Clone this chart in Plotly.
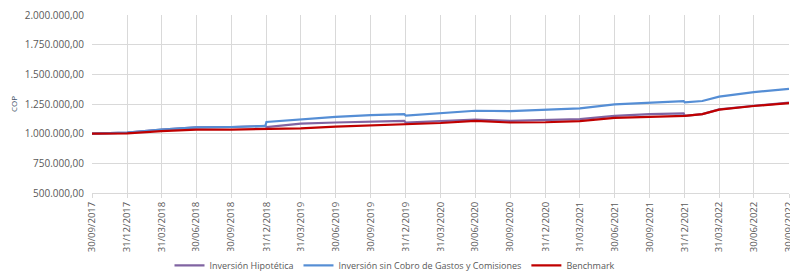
import plotly.graph_objects as go

dates = ["2017-09-30", "2017-12-31", "2018-03-31", "2018-06-30", "2018-09-30", "2018-12-28",
         "2018-12-31", "2019-03-31", "2019-06-30", "2019-09-30", "2019-12-27", "2019-12-31",
         "2020-03-31", "2020-06-30", "2020-09-30", "2020-12-31", "2021-03-31", "2021-06-30",
         "2021-09-30", "2021-12-28", "2021-12-31", "2022-02-15", "2022-03-31", "2022-06-30",
         "2022-09-30"]

hipotetica = [1000000, 1008000, 1034000, 1053000, 1056000, 1065000,
              1056000, 1085000, 1094000, 1102000, 1107000, 1094000,
              1105000, 1119000, 1107000, 1113000, 1122000, 1150000,
              1165000, 1171000, 1150000, 1165000, 1205000, 1235000,
              1261000]

sin_cobro = [1000000, 1008000, 1034000, 1053000, 1056000, 1065000,
             1099000, 1119000, 1142000, 1156000, 1165000, 1153000,
             1176000, 1193000, 1190000, 1201000, 1213000, 1247000,
             1261000, 1275000, 1264000, 1275000, 1312000, 1350000,
             1378000]

benchmark = [1000000, 1003000, 1022000, 1034000, 1034000, 1039000,
             1040000, 1045000, 1060000, 1068000, 1079000, 1080000,
             1090000, 1107000, 1094000, 1096000, 1105000, 1133000,
             1142000, 1150000, 1150000, 1165000, 1203000, 1233000,
             1258000]

tick_dates = ["2017-09-30", "2017-12-31", "2018-03-31", "2018-06-30", "2018-09-30",
              "2018-12-31", "2019-03-31", "2019-06-30", "2019-09-30", "2019-12-31",
              "2020-03-31", "2020-06-30", "2020-09-30", "2020-12-31", "2021-03-31",
              "2021-06-30", "2021-09-30", "2021-12-31", "2022-03-31", "2022-06-30",
              "2022-09-30"]
tick_labels = ["30/09/2017", "31/12/2017", "31/03/2018", "30/06/2018", "30/09/2018",
               "31/12/2018", "31/03/2019", "30/06/2019", "30/09/2019", "31/12/2019",
               "31/03/2020", "30/06/2020", "30/09/2020", "31/12/2020", "31/03/2021",
               "30/06/2021", "30/09/2021", "31/12/2021", "31/03/2022", "30/06/2022",
               "30/09/2022"]

font = "Open Sans"
txt = "#595959"

fig = go.Figure()
fig.add_trace(go.Scatter(x=dates, y=hipotetica, mode="lines", name="Inversión Hipotética",
                         line=dict(color="#8064A2", width=2.2)))
fig.add_trace(go.Scatter(x=dates, y=sin_cobro, mode="lines",
                         name="Inversión sin Cobro de Gastos y Comisiones",
                         line=dict(color="#558ED5", width=2.2)))
fig.add_trace(go.Scatter(x=dates, y=benchmark, mode="lines", name="Benchmark",
                         line=dict(color="#C00000", width=2.2)))

fig.update_layout(
    width=790, height=275,
    margin=dict(l=92, r=1, t=15, b=82),
    paper_bgcolor="white", plot_bgcolor="white",
    separators=",.",
    font=dict(family=font, size=9, color=txt),
    showlegend=True,
    legend=dict(orientation="h", xref="container", x=0.5, xanchor="center",
                yref="container", y=0.035, yanchor="middle",
                font=dict(family=font, size=9, color=txt),
                itemwidth=30, tracegroupgap=0),
    xaxis=dict(type="date", range=["2017-09-30", "2022-09-30"], automargin=False,
               tickmode="array", tickvals=tick_dates, ticktext=tick_labels,
               tickangle=-90, showgrid=True, gridcolor="#D9D9D9", gridwidth=1,
               showline=True, linecolor="#D9D9D9", ticks="outside", ticklen=4,
               tickcolor="#D9D9D9", tickfont=dict(family=font, size=9.5, color=txt),
               ticklabeloverflow="allow", zeroline=False),
    yaxis=dict(range=[500000, 2000000], automargin=False,
               tickvals=[500000, 750000, 1000000, 1250000, 1500000, 1750000, 2000000],
               tickformat=",.2f", showgrid=True, gridcolor="#D9D9D9", gridwidth=1,
               zeroline=False, showline=False, ticks="", ticklabelstandoff=7,
               tickfont=dict(family=font, size=10, color=txt)),
    annotations=[dict(text="COP", textangle=-90, xref="paper", yref="paper",
                      x=-(92 - 13) / 697, y=0.5, xanchor="center", yanchor="middle",
                      showarrow=False, font=dict(family=font, size=8, color="#44546A"))],
)

fig.write_html("out.html", config={"displayModeBar": False},
               post_script="document.body.style.margin='0px';")
